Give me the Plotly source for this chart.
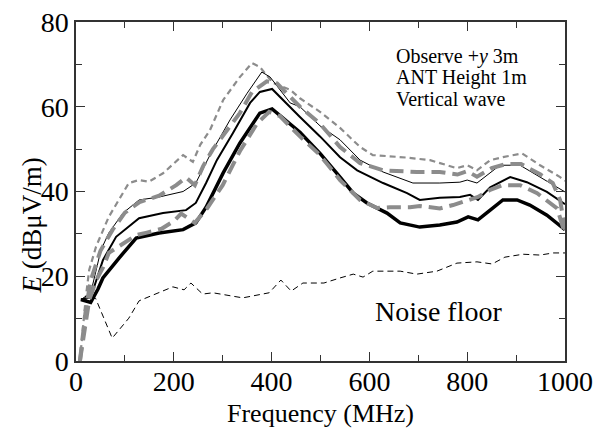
import plotly.graph_objects as go

# Frequency (MHz) / field strength E (dBuV/m)
thin_black_f = [10, 30, 51, 67, 96, 129, 170, 219, 245, 274, 315, 350, 380, 397, 438, 458, 499, 540, 581, 628, 689, 744, 785, 800, 820, 867, 908, 1000]
thin_black_e = [14.5, 16, 26.2, 30.2, 34.9, 38, 38.7, 40, 42, 48.6, 56.9, 63.2, 68.2, 67, 60.9, 60, 55.5, 52.2, 47.4, 44.6, 42, 42, 42.2, 42.7, 42, 46.2, 46.2, 39.9]

mid_black_f = [10, 30, 55, 82, 129, 178, 225, 245, 266, 288, 321, 356, 376, 401, 458, 499, 540, 575, 628, 677, 703, 744, 785, 806, 822, 847, 888, 922, 963, 1000]
mid_black_e = [14.5, 15, 23.8, 29.3, 33.7, 34.9, 35.6, 37.3, 42, 47.4, 53.8, 60.9, 63.5, 64.2, 57.6, 53, 48.1, 45, 42, 39.6, 38, 38.5, 38.7, 39.2, 38, 41, 43.4, 42.2, 39.9, 37]

thick_black_f = [10, 30, 45, 55, 88, 123, 170, 219, 245, 266, 301, 335, 376, 401, 458, 499, 540, 567, 595, 636, 663, 703, 744, 779, 802, 822, 847, 873, 902, 928, 963, 1000]
thick_black_e = [14.5, 13.8, 17, 19.6, 24.3, 29, 30.2, 31, 32.6, 36.3, 44.4, 51.4, 58.5, 59.5, 54, 49, 43.4, 39.6, 37.3, 34.9, 32.6, 31.6, 32.1, 32.8, 34, 33.3, 35.6, 38, 38, 36.8, 34.4, 31]

gray_thin_f = [8, 20, 27, 41, 67, 108, 129, 149, 178, 219, 239, 254, 274, 301, 335, 360, 376, 403, 438, 458, 499, 540, 581, 607, 677, 724, 779, 800, 820, 847, 873, 912, 949, 990, 1000]
gray_thin_e = [0, 15, 21.5, 27, 34, 42, 42.7, 42.3, 44.3, 48.6, 47, 51, 54.5, 61.6, 67, 70.3, 69.4, 65.6, 64, 62, 58.8, 55, 50.5, 48.6, 48, 47.4, 45.5, 46.2, 45, 47.4, 48.1, 49, 46.2, 43.4, 42.5]

gray_up_f = [8, 20, 30, 50, 75, 100, 130, 170, 205, 225, 243, 260, 280, 305, 335, 360, 390, 411, 458, 499, 540, 581, 628, 697, 744, 780, 800, 820, 850, 880, 910, 950, 975, 990, 1000]
gray_up_e = [0, 12, 19, 26, 31, 35, 37.5, 39, 41.5, 43.3, 41.5, 46, 50, 54, 58.5, 63.5, 66, 65.5, 60, 56, 50.5, 46.7, 45, 44.6, 44.6, 44, 44.8, 43.5, 45.5, 46.5, 46.5, 44, 42, 38, 31]

gray_low_f = [8, 20, 27, 41, 55, 67, 96, 123, 145, 175, 200, 215, 243, 268, 300, 335, 370, 395, 417, 458, 499, 540, 581, 616, 642, 683, 703, 744, 771, 800, 822, 847, 873, 908, 943, 984, 1000]
gray_low_e = [0, 10, 14.4, 19, 22, 25.5, 27.8, 29.7, 30.3, 31.2, 33, 34.8, 32.6, 36, 41.5, 49.5, 56, 58.8, 57.8, 53, 48.6, 42.7, 38, 36.1, 36.3, 36.3, 36.6, 36, 36.8, 38, 38.7, 40.4, 41.5, 41.5, 39.6, 36, 30]

noise_f = [10, 40, 74, 108, 129, 198, 221, 235, 259, 280, 341, 395, 419, 440, 464, 507, 540, 567, 587, 607, 663, 697, 738, 779, 820, 851, 877, 914, 949, 976, 1000]
noise_e = [14.4, 14.8, 5.4, 10.1, 14.2, 17.5, 16.8, 18.4, 15.8, 16.1, 14.9, 16.1, 19.1, 16.5, 18.4, 18.4, 19.6, 20.5, 19.8, 21.2, 21.2, 20.5, 21.2, 23.1, 23.4, 22.9, 24.5, 25.2, 25.0, 25.5, 25.5]

x_ticks = [0, 200, 400, 600, 800, 1000]
y_ticks = [0, 20, 40, 60, 80]

FONT = "Liberation Serif, Times New Roman, Times, serif"
GRAY = "#8c8c8c"

fig = go.Figure()

def add(xs, ys, color, width, dash):
    fig.add_trace(go.Scatter(x=xs, y=ys, mode="lines",
                             line=dict(color=color, width=width, dash=dash),
                             showlegend=False, hoverinfo="skip"))

add(noise_f, noise_e, "black", 1, "6px,4px")
add(gray_thin_f, gray_thin_e, GRAY, 2.2, "6px,4px")
add(thin_black_f, thin_black_e, "black", 1, "solid")
add(mid_black_f, mid_black_e, "black", 2, "solid")
add(thick_black_f, thick_black_e, "black", 3.5, "solid")
add(gray_up_f, gray_up_e, GRAY, 4, "14px,7px")
add(gray_low_f, gray_low_e, GRAY, 4, "14px,7px")

axis_common = dict(showgrid=False, zeroline=False, showline=True, linecolor="#333",
                   linewidth=1.5, mirror="allticks", ticks="inside", ticklen=9,
                   tickwidth=1.3, tickcolor="#333", automargin=False,
                   tickfont=dict(family=FONT, size=28, color="black"))

fig.update_xaxes(range=[0, 1000], tickvals=x_ticks, ticktext=[str(v) for v in x_ticks],
                 ticklabelstandoff=-5,
                 minor=dict(dtick=100, tick0=0, ticks="inside", ticklen=6, tickwidth=1.3, tickcolor="#333"),
                 **axis_common)
fig.update_yaxes(range=[0, 80], tickvals=y_ticks, ticktext=[str(v) for v in y_ticks],
                 minor=dict(dtick=10, tick0=0, ticks="inside", ticklen=6, tickwidth=1.3, tickcolor="#333"),
                 **axis_common)

ann_font = dict(family=FONT, size=20, color="black")
fig.add_annotation(x=650, y=71.9, xref="x", yref="y", text="Observe +<i>y</i> 3m",
                   showarrow=False, xanchor="left", yanchor="middle", font=ann_font)
fig.add_annotation(x=650, y=66.9, xref="x", yref="y", text="ANT Height 1m",
                   showarrow=False, xanchor="left", yanchor="middle", font=ann_font)
fig.add_annotation(x=650, y=61.8, xref="x", yref="y", text="Vertical wave",
                   showarrow=False, xanchor="left", yanchor="middle", font=ann_font)
fig.add_annotation(x=607, y=11.6, xref="x", yref="y", text="Noise floor",
                   showarrow=False, xanchor="left", yanchor="middle",
                   font=dict(family=FONT, size=28, color="black"))
fig.add_annotation(x=-0.09, y=0.40, xref="paper", yref="paper", text="<i>E</i> (dBμV/m)",
                   showarrow=False, textangle=-90, xanchor="center", yanchor="middle",
                   font=dict(family=FONT, size=27, color="black"))
fig.add_annotation(x=0.499, y=-0.155, xref="paper", yref="paper", text="Frequency (MHz)",
                   showarrow=False, xanchor="center", yanchor="middle",
                   font=dict(family=FONT, size=26, color="black"))

fig.update_layout(width=595, height=428, margin=dict(l=76, r=30, t=22, b=67, autoexpand=False),
                  plot_bgcolor="white", paper_bgcolor="white")

fig.write_html("out.html")
